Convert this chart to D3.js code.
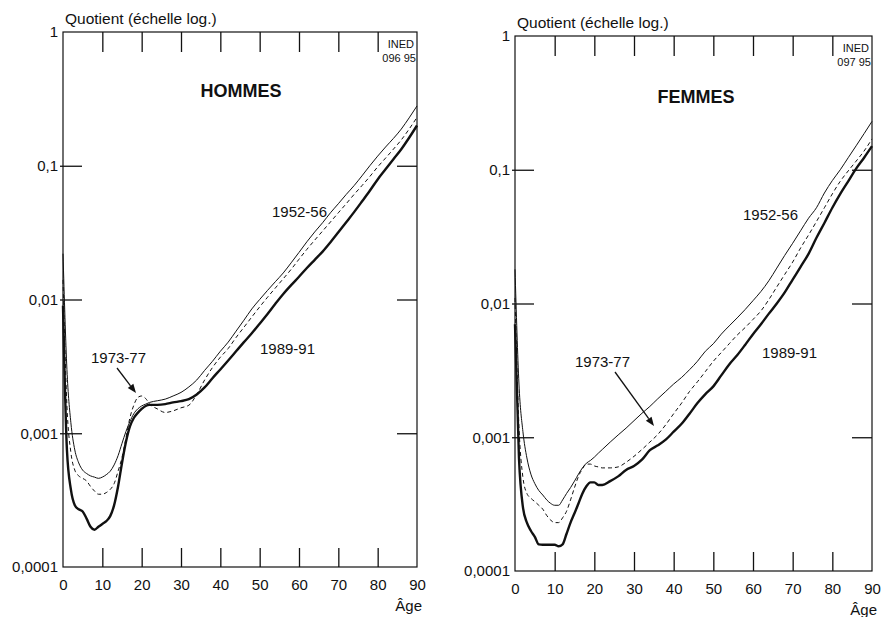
<!DOCTYPE html>
<html><head><meta charset="utf-8">
<script src="https://cdn.jsdelivr.net/npm/d3@7"></script>
<style>
html,body{margin:0;padding:0;background:#fff;}
svg{display:block;font-family:"Liberation Sans",Arial,Helvetica,sans-serif;}
</style></head>
<body>
<svg id="chart" width="881" height="617"></svg>
<script>
// ---- data ----
const ages = [0,1,2,3,4,5,6,7,8,9,10,11,12,13,14,15,16,17,18,19,20,21,22,
  24,26,28,30,32,34,36,38,40,42,44,46,48,50,52,54,56,58,60,62,64,66,68,70,72,74,76,78,80,82,84,86,88,90];

const hommes1952 = [0.022,0.0030,0.0012,0.00075,0.00060,0.00053,0.00050,0.00048,0.00047,0.00046,0.00047,0.00049,0.00052,0.00058,0.00068,0.00084,0.00103,0.00122,0.00140,0.00152,0.00160,0.00165,0.00170,
  0.00175,0.00180,0.00190,0.00202,0.00222,0.00250,0.00295,0.00345,0.0041,0.0048,0.0058,0.0070,0.0085,0.0100,0.0117,0.0136,0.0158,0.0188,0.0225,0.0270,0.0320,0.0375,0.0445,0.052,0.061,0.071,0.084,0.100,0.118,0.138,0.160,0.188,0.228,0.280];
const hommes1973 = [0.014,0.0016,0.00072,0.00053,0.00048,0.00046,0.00044,0.00040,0.00037,0.00035,0.00035,0.00036,0.00038,0.00042,0.00052,0.00066,0.00092,0.00130,0.00162,0.00185,0.00190,0.00182,0.00166,
  0.00152,0.00143,0.00147,0.00155,0.00162,0.00195,0.00250,0.00310,0.0037,0.0043,0.0052,0.0062,0.0074,0.0088,0.0104,0.0122,0.0143,0.0168,0.0200,0.0237,0.0278,0.0325,0.0380,0.0445,0.052,0.061,0.071,0.083,0.098,0.114,0.133,0.156,0.188,0.230];
const hommes1989 = [0.0090,0.00075,0.00038,0.00029,0.00027,0.00026,0.00023,0.00020,0.00019,0.00020,0.00021,0.00022,0.00024,0.00029,0.00040,0.00060,0.00086,0.00112,0.00130,0.00142,0.00152,0.00160,0.00163,
  0.00163,0.00165,0.00170,0.00174,0.00180,0.00195,0.00220,0.00258,0.0030,0.0035,0.0041,0.0048,0.0056,0.0066,0.0078,0.0093,0.0110,0.0128,0.0148,0.0172,0.0198,0.0228,0.0268,0.0318,0.0378,0.0450,0.054,0.065,0.079,0.094,0.112,0.133,0.162,0.200];

const femmes1952 = [0.018,0.0025,0.0011,0.00070,0.00053,0.00045,0.00040,0.00037,0.00034,0.00032,0.00031,0.00031,0.00034,0.00038,0.00042,0.00047,0.00053,0.00059,0.00064,0.00067,0.00071,0.00076,0.00081,
  0.00092,0.00104,0.00117,0.00133,0.00151,0.00170,0.00194,0.00220,0.00250,0.00280,0.00320,0.0037,0.0044,0.0050,0.0059,0.0068,0.0078,0.0090,0.0105,0.0123,0.0148,0.0184,0.0229,0.0282,0.0350,0.0434,0.052,0.067,0.083,0.100,0.123,0.151,0.186,0.230];
const femmes1973 = [0.011,0.0012,0.00050,0.00038,0.00035,0.00033,0.00031,0.00029,0.00026,0.00024,0.00023,0.00023,0.00025,0.00028,0.00034,0.00042,0.00051,0.00058,0.00063,0.00063,0.00061,0.00060,0.00059,
  0.00059,0.00060,0.00065,0.00072,0.00081,0.00092,0.00105,0.00124,0.00150,0.00180,0.00220,0.00260,0.0031,0.0037,0.0043,0.0050,0.0058,0.0066,0.0076,0.0088,0.0107,0.0133,0.0165,0.0204,0.026,0.0325,0.041,0.052,0.066,0.082,0.098,0.116,0.138,0.170];
const femmes1989 = [0.0070,0.0007,0.00030,0.00023,0.00020,0.00018,0.000158,0.000157,0.000157,0.000157,0.000157,0.000153,0.000158,0.00019,0.00023,0.00027,0.00032,0.00038,0.00043,0.00046,0.00046,0.00044,0.00044,
  0.00047,0.00051,0.00057,0.00061,0.00068,0.00080,0.00087,0.00096,0.00110,0.00126,0.00150,0.00180,0.00210,0.00240,0.0029,0.0035,0.0041,0.0049,0.0059,0.0070,0.0084,0.0100,0.0121,0.0151,0.0188,0.0235,0.031,0.040,0.052,0.066,0.082,0.102,0.123,0.150];

const periods = ["1952-56","1973-77","1989-91"];
const xTickValues = [0,10,20,30,40,50,60,70,80,90];
const yTickValues = [1,0.1,0.01,0.001,0.0001];
const yTickLabels = ["1","0,1","0,01","0,001","0,0001"];
const yAxisTitle = "Quotient (échelle log.)";
const xAxisTitle = "Âge";

// ---- layout ----
const panels = [
  {title:"HOMMES", code:"096 95", series:[hommes1952,hommes1973,hommes1989],
   x0:63, x1:417, y0:32, y1:567, titleX:241, titleY:97,
   lab:[[272,217],[91,363],[260,354]], arrow:[[117,368],[136,393]]},
  {title:"FEMMES", code:"097 95", series:[femmes1952,femmes1973,femmes1989],
   x0:515, x1:872, y0:36, y1:571, titleX:696, titleY:103,
   lab:[[743,220],[575,367],[762,358]], arrow:[[615,372],[654,426]]}
];
const styles = [
  {w:1.0, dash:null},
  {w:1.0, dash:"4,3"},
  {w:2.4, dash:null}
];
const ink = "#111";

const svg = d3.select("#chart");

panels.forEach(p => {
  const x = d3.scaleLinear().domain([0,90]).range([p.x0,p.x1]);
  const y = d3.scaleLog().domain([0.0001,1]).range([p.y1,p.y0]);
  const g = svg.append("g");

  // frame
  g.append("rect").attr("x",p.x0).attr("y",p.y0)
    .attr("width",p.x1-p.x0).attr("height",p.y1-p.y0)
    .attr("fill","none").attr("stroke",ink).attr("stroke-width",1.2);

  const styleAxis = sel => {
    sel.select(".domain").remove();
    sel.selectAll(".tick line").attr("stroke",ink).attr("stroke-width",1.3);
    sel.selectAll(".tick text").attr("fill",ink).attr("font-size",15);
  };

  // bottom axis: inner ticks + labels
  g.append("g").attr("transform",`translate(0,${p.y1})`)
    .call(d3.axisBottom(x).tickValues(xTickValues).tickSize(-19).tickPadding(12).tickFormat(d3.format("d")))
    .call(styleAxis)
    .call(s => s.selectAll(".tick").filter(d => d===0||d===90).select("line").remove());
  // top axis: inner ticks only
  g.append("g").attr("transform",`translate(0,${p.y0})`)
    .call(d3.axisTop(x).tickValues(xTickValues.slice(1,-1)).tickSize(-20).tickFormat(""))
    .call(styleAxis);
  // left axis
  g.append("g").attr("transform",`translate(${p.x0},0)`)
    .call(d3.axisLeft(y).tickValues(yTickValues).tickSize(-19).tickPadding(5)
      .tickFormat((d,i) => yTickLabels[i]))
    .call(styleAxis)
    .call(s => s.selectAll(".tick").filter(d => d===1||d===0.0001).select("line").remove())
    .call(s => s.selectAll(".tick line").attr("x1",-3));
  // right axis: inner ticks only
  g.append("g").attr("transform",`translate(${p.x1},0)`)
    .call(d3.axisRight(y).tickValues(yTickValues.slice(1,-1)).tickSize(-20).tickFormat(""))
    .call(styleAxis);

  // axis titles
  g.append("text").attr("x",p.x0+2).attr("y",p.y0-8).attr("font-size",15.5).attr("fill",ink).text(yAxisTitle);
  g.append("text").attr("x",p.x1+5).attr("y",p.y1+44).attr("text-anchor","end").attr("font-size",15).attr("fill",ink).text(xAxisTitle);

  // INED code
  g.append("text").attr("x",p.x1-3).attr("y",p.y0+16).attr("text-anchor","end").attr("font-size",11).attr("fill",ink).text("INED");
  g.append("text").attr("x",p.x1-1).attr("y",p.y0+30).attr("text-anchor","end").attr("font-size",11).attr("fill",ink).text(p.code);

  // panel title
  g.append("text").attr("x",p.titleX).attr("y",p.titleY).attr("text-anchor","middle")
    .attr("font-size",18).attr("font-weight","bold").attr("fill",ink).text(p.title);

  // curves
  const line = d3.line().x((d,i) => x(ages[i])).y(d => y(d)).curve(d3.curveMonotoneX);
  p.series.forEach((s,k) => {
    g.append("path").datum(s).attr("d",line).attr("fill","none")
      .attr("stroke",ink).attr("stroke-width",styles[k].w)
      .attr("stroke-linejoin","round")
      .attr("stroke-dasharray",styles[k].dash);
  });

  // curve labels
  periods.forEach((t,k) => {
    g.append("text").attr("x",p.lab[k][0]).attr("y",p.lab[k][1]).attr("font-size",15).attr("fill",ink).text(t);
  });

  // arrow
  const [a,b] = p.arrow;
  const ang = Math.atan2(b[1]-a[1], b[0]-a[0]);
  const hl = 9, hw = 3.5;
  const bx = b[0]-hl*Math.cos(ang), by = b[1]-hl*Math.sin(ang);
  g.append("line").attr("x1",a[0]).attr("y1",a[1]).attr("x2",bx).attr("y2",by).attr("stroke",ink).attr("stroke-width",1.3);
  g.append("path").attr("d",`M${b[0]},${b[1]}L${bx+hw*Math.sin(ang)},${by-hw*Math.cos(ang)}L${bx-hw*Math.sin(ang)},${by+hw*Math.cos(ang)}Z`).attr("fill",ink);
});
</script>
</body></html>
